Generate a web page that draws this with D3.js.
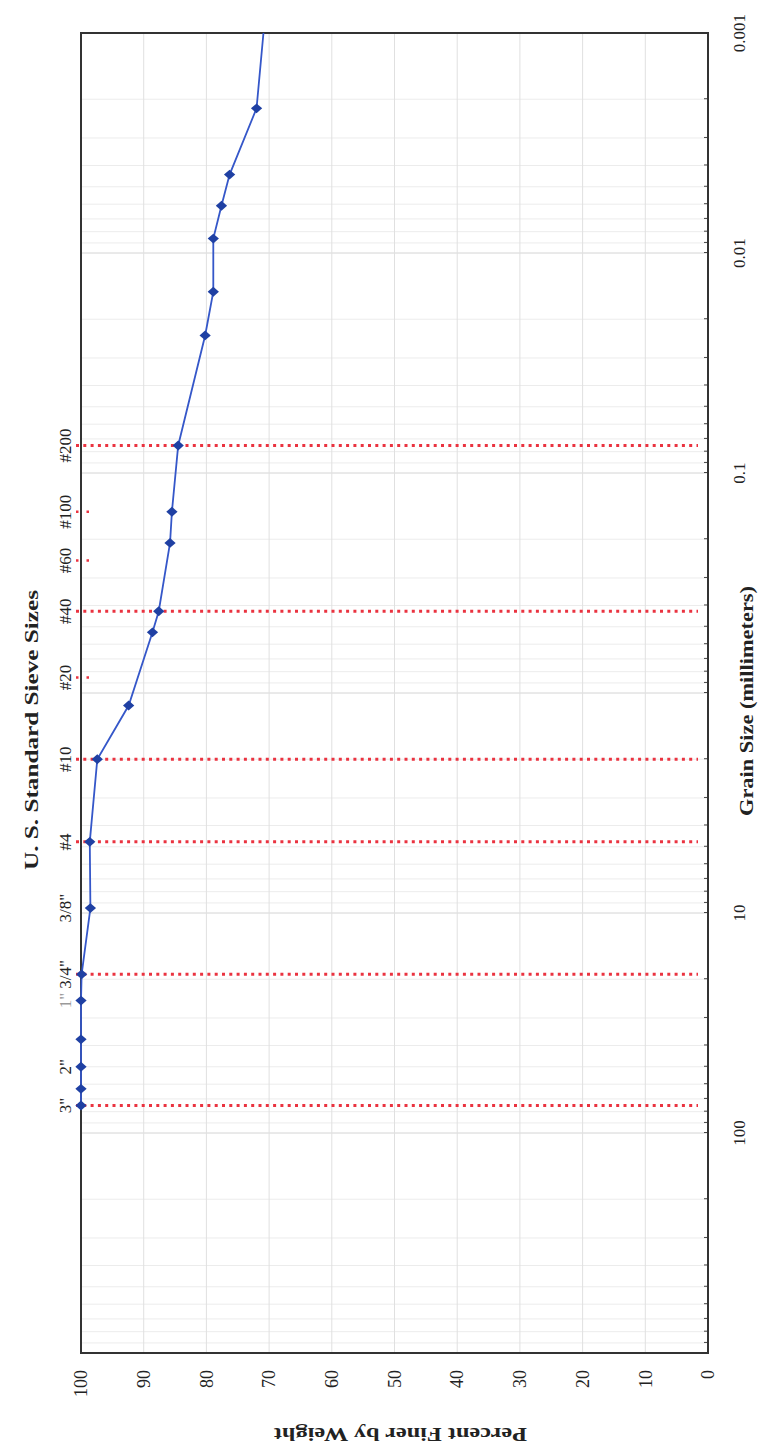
<!DOCTYPE html>
<html>
<head>
<meta charset="utf-8">
<script src="https://cdn.jsdelivr.net/npm/d3@7"></script>
<style>
  body { margin: 0; background: #fff; }
  text { font-family: "Liberation Serif", "Times New Roman", serif; fill: #222; }
</style>
</head>
<body>
<div id="chart"></div>
<script>

// grain size (mm) and percent finer
// the last pair is where the line runs out of the chart (no marker there)
var grainSize = [75, 63, 50, 37.5, 25, 19, 9.5, 4.75, 2.0, 1.14, 0.53, 0.425, 0.208, 0.15, 0.075,
                 0.0237, 0.015, 0.0086, 0.0061, 0.0044, 0.0022, 0.001];
var percentFiner = [100, 100, 100, 100, 100, 99.9, 98.5, 98.6, 97.4, 92.4, 88.6, 87.6, 85.8, 85.5, 84.5,
                    80.2, 78.9, 78.9, 77.6, 76.3, 72.0, 70.9];

// US standard sieves
var sieveNames = ['3"', '2"', '1"', '3/4"', '3/8"', '#4', '#10', '#20', '#40', '#60', '#100', '#200'];
var sieveSizes = [75, 50, 25, 19, 9.5, 4.75, 2.0, 0.85, 0.425, 0.25, 0.15, 0.075];
var sieveLines = ['3"', '3/4"', '#4', '#10', '#40', '#200'];
var sieveStubs = ['#20', '#60', '#100'];

var percentTicks = [0, 10, 20, 30, 40, 50, 60, 70, 80, 90, 100];
var grainLabelValues = [100, 10, 0.1, 0.01, 0.001];
var grainLabelText = ["100", "10", "0.1", "0.01", "0.001"];

// chart is drawn landscape and then turned a quarter turn to the left
var W = 1454, H = 759;
var margin = {top: 81, right: 33, bottom: 51, left: 101};

var svg = d3.select("#chart").append("svg")
    .attr("width", H)
    .attr("height", W);

var g = svg.append("g")
    .attr("transform", "translate(0," + W + ") rotate(-90)");

var x = d3.scaleLog()
    .domain([1000, 0.001])
    .range([margin.left, W - margin.right]);

var y = d3.scaleLinear()
    .domain([0, 100])
    .range([H - margin.bottom, margin.top]);

// grid
var logTicks = x.ticks();
g.append("g").selectAll("line")
    .data(logTicks)
    .enter().append("line")
    .attr("x1", function(d) { return x(d); })
    .attr("x2", function(d) { return x(d); })
    .attr("y1", y(100))
    .attr("y2", y(0))
    .attr("stroke", function(d) {
        var m = Math.log10(d);
        return Math.abs(m - Math.round(m)) < 1e-6 ? "#d4d4d4" : "#ececec";
    })
    .attr("stroke-width", 1);

g.append("g").selectAll("line")
    .data(percentTicks)
    .enter().append("line")
    .attr("x1", x.range()[0])
    .attr("x2", x.range()[1])
    .attr("y1", function(d) { return y(d); })
    .attr("y2", function(d) { return y(d); })
    .attr("stroke", "#e0e0e0")
    .attr("stroke-width", 1);

// small ticks on the grain size axis
var xAxis = g.append("g")
    .attr("transform", "translate(0," + y(0) + ")")
    .call(d3.axisBottom(x).tickValues(logTicks).tickSize(-4).tickFormat(""));
xAxis.select(".domain").remove();
xAxis.selectAll("line").attr("stroke", "#444");

// grain size labels
g.append("g").selectAll("text")
    .data(grainLabelValues)
    .enter().append("text")
    .attr("x", function(d) { return x(d); })
    .attr("y", y(0) + 37)
    .attr("text-anchor", "middle")
    .attr("font-size", 17)
    .text(function(d, i) { return grainLabelText[i]; });

// percent labels
var yAxis = g.append("g")
    .attr("transform", "translate(" + x.range()[0] + ",0)")
    .call(d3.axisLeft(y).tickValues(percentTicks).tickSize(0).tickPadding(17));
yAxis.select(".domain").remove();
yAxis.selectAll("text")
    .attr("font-size", 18)
    .style("font-family", "Liberation Serif")
    .attr("fill", "#222");

// red sieve lines
var sieveIndex = {};
sieveNames.forEach(function(n, i) { sieveIndex[n] = sieveSizes[i]; });

g.append("g").selectAll("line")
    .data(sieveLines)
    .enter().append("line")
    .attr("x1", function(d) { return x(sieveIndex[d]); })
    .attr("x2", function(d) { return x(sieveIndex[d]); })
    .attr("y1", y(100) - 5)
    .attr("y2", y(0) - 10)
    .attr("stroke", "#ea3340")
    .attr("stroke-width", 3)
    .attr("stroke-dasharray", "3,4.3");

g.append("g").selectAll("line")
    .data(sieveStubs)
    .enter().append("line")
    .attr("x1", function(d) { return x(sieveIndex[d]); })
    .attr("x2", function(d) { return x(sieveIndex[d]); })
    .attr("y1", y(100) - 5)
    .attr("y2", y(100) + 9)
    .attr("stroke", "#ea3340")
    .attr("stroke-width", 2.5)
    .attr("stroke-dasharray", "2.5,8");

// frame
g.append("rect")
    .attr("x", x.range()[0])
    .attr("y", y(100))
    .attr("width", x.range()[1] - x.range()[0])
    .attr("height", y(0) - y(100))
    .attr("fill", "none")
    .attr("stroke", "#333")
    .attr("stroke-width", 2);

// sieve labels
g.append("g").selectAll("text")
    .data(sieveNames)
    .enter().append("text")
    .attr("x", function(d, i) { return x(sieveSizes[i]); })
    .attr("y", 71)
    .attr("text-anchor", "middle")
    .attr("font-size", 17)
    .style("fill", function(d) { return d == '1"' ? "#9a9a9a" : "#222"; })
    .text(function(d) { return d; });

// gradation curve
var pts = grainSize.map(function(d, i) { return {size: d, pct: percentFiner[i]}; });

var line = d3.line()
    .x(function(d) { return x(d.size); })
    .y(function(d) { return y(d.pct); });

g.append("path")
    .datum(pts)
    .attr("d", line)
    .attr("fill", "none")
    .attr("stroke", "#3557c9")
    .attr("stroke-width", 1.8);

var diamond = {
    draw: function(ctx, size) {
        var r = Math.sqrt(size / 2);
        ctx.moveTo(0, -r * 1.15);
        ctx.lineTo(r, 0);
        ctx.lineTo(0, r * 1.15);
        ctx.lineTo(-r, 0);
        ctx.closePath();
    }
};

g.append("g").selectAll("path")
    .data(pts.slice(0, pts.length - 1))
    .enter().append("path")
    .attr("transform", function(d) { return "translate(" + x(d.size) + "," + y(d.pct) + ")"; })
    .attr("d", d3.symbol().type(diamond).size(48))
    .attr("fill", "#1f40a3");

// titles
g.append("text")
    .attr("x", (x.range()[0] + x.range()[1]) / 2 - 37)
    .attr("y", 38)
    .attr("text-anchor", "middle")
    .attr("font-size", 18)
    .attr("font-weight", "bold")
    .attr("textLength", 280)
    .attr("lengthAdjust", "spacingAndGlyphs")
    .text("U. S. Standard Sieve Sizes");

g.append("text")
    .attr("x", (x.range()[0] + x.range()[1]) / 2 - 8)
    .attr("y", 753)
    .attr("text-anchor", "middle")
    .attr("font-size", 19)
    .attr("font-weight", "bold")
    .attr("textLength", 230)
    .attr("lengthAdjust", "spacingAndGlyphs")
    .text("Grain Size (millimeters)");

g.append("text")
    .attr("transform", "translate(26," + ((y(0) + y(100)) / 2 + 6) + ") rotate(-90)")
    .attr("text-anchor", "middle")
    .attr("font-size", 18)
    .attr("font-weight", "bold")
    .attr("textLength", 253)
    .attr("lengthAdjust", "spacingAndGlyphs")
    .text("Percent Finer by Weight");

</script>
</body>
</html>
